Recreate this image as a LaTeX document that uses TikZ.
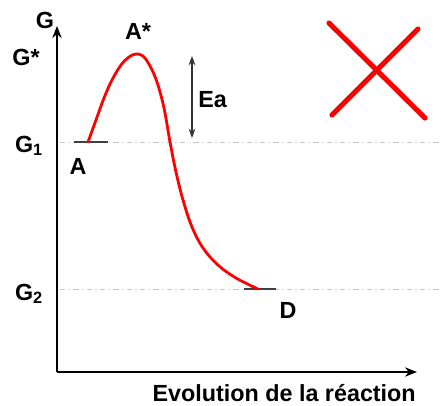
\documentclass[tikz,border=0pt]{standalone}
\usepackage{fontspec}
\setmainfont{Liberation Sans}
\usetikzlibrary{arrows.meta}
\begin{document}
\begin{tikzpicture}[x=0.75pt,y=-0.75pt,
  lbl/.style={font=\bfseries\fontsize{17.5}{19}\selectfont, inner sep=0pt},
  axis/.style={line width=2.2pt, -{Stealth[length=9pt,width=7pt]}},
  guide/.style={gray!45, line width=0.6pt, dash pattern=on 4pt off 2.5pt on 1pt off 2.5pt},
  level/.style={black!75, line width=1.2pt},
  curve/.style={red, line width=2.1pt, line cap=round, line join=round},
  cross/.style={red, line width=3.8pt, line cap=round},
  ea/.style={black!80, line width=1.3pt, {Stealth[length=7pt,width=5pt]}-{Stealth[length=7pt,width=5pt]}}]
\useasboundingbox (0,0) rectangle (441,405);
% axes
\coordinate (O) at (57,372);
\coordinate (Ytop) at (57,26);
\coordinate (Xend) at (417,372);
\draw[axis] (O) -- (Ytop);
\draw[axis] (O) -- (Xend);
% guides
\coordinate (g1l) at (60,142);
\coordinate (g1r) at (441,142);
\coordinate (g2l) at (60,289);
\coordinate (g2r) at (441,289);
\draw[guide] (g1l) -- (g1r);
\draw[guide] (g2l) -- (g2r);
% levels
\coordinate (Al) at (74,142);
\coordinate (Ar) at (108,142);
\coordinate (Dl) at (244,289);
\coordinate (Dr) at (276,289);
\draw[level] (Al) -- (Ar);
\draw[level] (Dl) -- (Dr);
% curve
\draw[curve] plot[smooth, tension=0.6] coordinates {(88,142) (96,120) (104,98) (112,80) (121,65) (129,57) (136,54) (143,56) (150,66) (157,82) (164,108) (170,142) (176,172) (183,200) (192,227) (203,248) (218,265) (236,278) (258,289)};
% Ea arrow
\coordinate (eat) at (192,56);
\coordinate (eab) at (192,138);
\draw[ea] (eat) -- (eab);
\node[lbl, anchor=west] (Ea) at (198,100) {Ea};
% labels
\node[lbl] (G) at (45,20) {G};
\node[lbl] (Gs) at (26,57) {G*};
\node[lbl] (G1) at (29,146) {G\textsubscript{1}};
\node[lbl] (G2) at (29,294) {G\textsubscript{2}};
\node[lbl] (As) at (138,31) {A*};
\node[lbl] (A) at (78,166) {A};
\node[lbl] (D) at (288,310) {D};
\node[lbl, anchor=east] (xl) at (416,393) {Evolution de la réaction};
% red cross
\coordinate (c1) at (329,23);
\coordinate (c2) at (425,118);
\coordinate (c3) at (418,29);
\coordinate (c4) at (332,115);
\draw[cross] (c1) -- (c2);
\draw[cross] (c3) -- (c4);
\end{tikzpicture}
\end{document}
